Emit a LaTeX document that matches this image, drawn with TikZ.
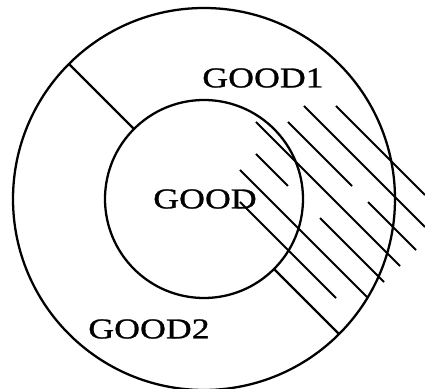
\documentclass[tikz,border=0pt]{standalone}
\usepackage{fontspec}
\newfontfamily\goodfont[FakeStretch=1.25, FakeBold=1]{Liberation Serif}

\begin{document}
\begin{tikzpicture}[
    x=0.2mm, y=0.2mm,
    ring/.style={line width=1.3pt},
    hatch/.style={line width=1.15pt},
    goodlabel/.style={inner sep=0pt, font={\goodfont\fontsize{16.3pt}{19pt}\selectfont}},
]
\useasboundingbox (-204,-190) rectangle (221,199);

\coordinate (c) at (0,0);
\draw[ring] (c) circle (191);
\draw[ring] (c) circle (99);
\draw[ring] (135:99) -- (135:191);
\draw[ring] (-45:99) -- (-45:191);

\node[goodlabel] (good) at (1,0) {GOOD};
\node[goodlabel] (good1) at (59,121) {GOOD1};
\node[goodlabel] (good2) at (-55,-130) {GOOD2};

% hatching
\foreach \xa/\ya/\xb/\yb in {100/93/221/-28, 132/93/221/4, 84/77/148/13, 164/-3/212/-51,
    52/77/196/-67, 52/45/84/13, 116/-19/180/-83, 36/29/164/-99, 36/-3/132/-99}
  \draw[hatch] (\xa,\ya) -- (\xb,\yb);

\end{tikzpicture}
\end{document}
